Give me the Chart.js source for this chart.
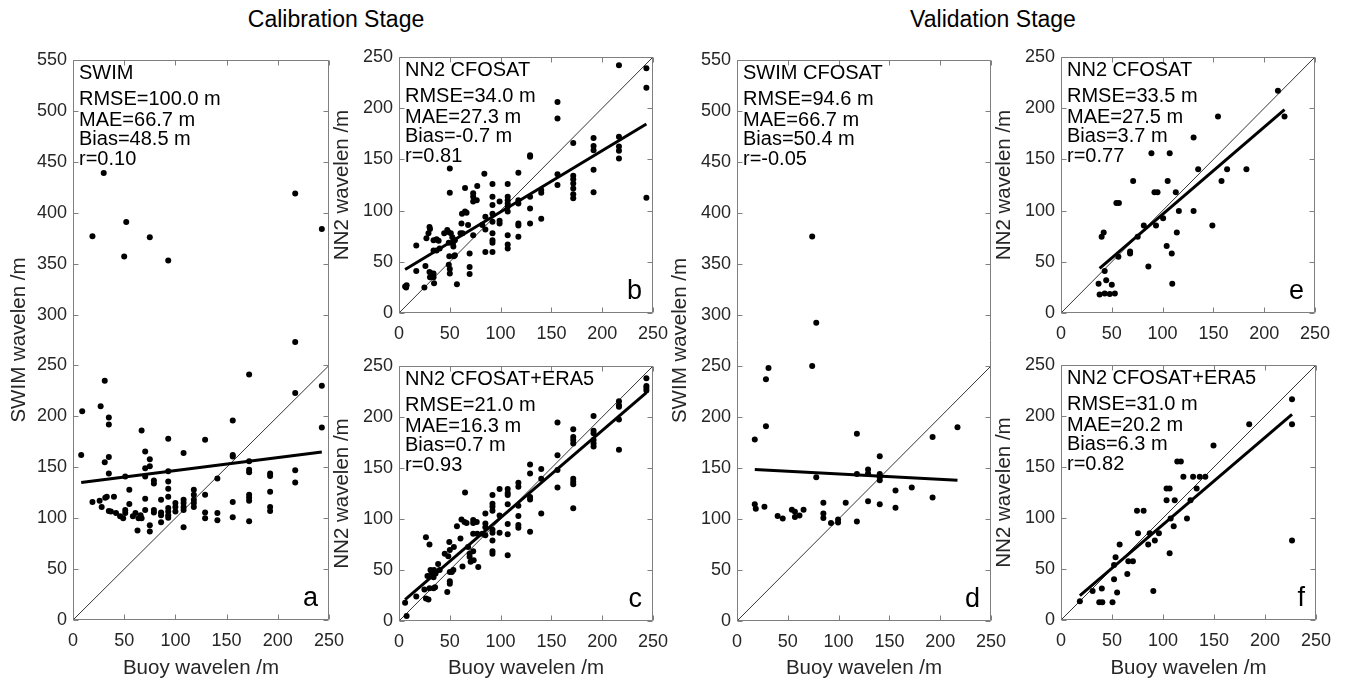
<!DOCTYPE html>
<html><head><meta charset="utf-8">
<script src="https://cdn.jsdelivr.net/npm/chart.js@4.4.0/dist/chart.umd.min.js"></script>
<style>
html,body{margin:0;padding:0;background:#fff;}
#wrap{position:relative;width:1346px;height:682px;overflow:hidden;font-family:"Liberation Sans",Arial,sans-serif;}
canvas{position:absolute;left:0;top:0;}
.stage{position:absolute;top:6px;font-size:23px;color:#000;transform:translateX(-50%);white-space:nowrap;}
</style></head><body>
<div id="wrap">
<div class="stage" style="left:336px">Calibration Stage</div>
<div class="stage" style="left:993px">Validation Stage</div>
<canvas id="pa" width="1346" height="682"></canvas>
<canvas id="pb" width="1346" height="682"></canvas>
<canvas id="pc" width="1346" height="682"></canvas>
<canvas id="pd" width="1346" height="682"></canvas>
<canvas id="pe" width="1346" height="682"></canvas>
<canvas id="pf" width="1346" height="682"></canvas>
</div>
<script>
// ---------- tick labels ----------
const xTicks = [0, 50, 100, 150, 200, 250];
const yTicks550 = [0, 50, 100, 150, 200, 250, 300, 350, 400, 450, 500, 550];
const yTicks250 = [0, 50, 100, 150, 200, 250];
const diagonal = [[0, 0], [250, 250]];

// ---------- panel a: Calibration, SWIM vs buoy ----------
const pointsA = [[30,439],[19,377],[52,391],[50,357],[75,376],[93,353],[217,419],[243,384],[217,273],
[9,205],[27,210],[31,235],[35,199],[35,192],[8,162],[31,155],[35,160],[35,144],
[19,116],[26,117],[28,111],[31.5,120],[33,121],[40,121],[35,107],[37,106.5],[42,105],[46,102],[49,100],[51,105],[51,108],[51,141],[55,128],[55,114],[58.5,102],[61,105],[63,88],[64,100],[66,103],[67,186],[67,100],[70.5,165.5],[70.5,149],[70.5,141],[70.5,119],[70.5,108],[75,158],[75,151],[75,93],[75,87],[79,137],[79,134],[79,108],[79,105.5],[86,118],[86,105.5],[86,103],[86,96],[93,178],[93,146],[93,136],[93,129],[93,121],[93,110],[93,106.5],[93,103],[93,100.5],[100,115],[100,111],[100,106.5],[108,164],[108,118],[108,115],[108,111],[108,108],[108,91],[118,128],[118,123],[118,118],[118,115],[118,111],[129,177],[129,123],[129,105.5],[129,100],[141,139],[141,105],[141,98],[156,196],[156,162],[156,160.5],[156,116],[156,101],[172,241],[172,156],[172,147.5],[172,145],[172,123],[172,120],[172,117],[172,97],[192.5,144],[192.5,141.5],[192.5,126],[192.5,111],[192.5,107],[217,223],[217,147],[217,135],[243,230],[243,189]];
const fitA = [[8,135],[243,165]];
const statsA = ['SWIM', 'RMSE=100.0 m', 'MAE=66.7 m', 'Bias=48.5 m', 'r=0.10'];

// ---------- panel b: Calibration, NN2 CFOSAT ----------
const pointsB = [[6,26],[7,25],[7.5,27],[17,66],[17,41],[25,25],[26,46],[27,73],[29,78],[30,84],[30.5,82],[30,40],[30.5,35],[32,38.5],[34,71],[34,61],[34,35],[34,38.5],[34.5,29],[37,72],[37,61],[39,70.5],[40,63],[44.5,78],[47.5,81],[48.5,79],[49,68.5],[49.5,55.5],[49,47],[50,43],[50,38.5],[50,141],[50,117.5],[51,78],[52.5,74],[53,68],[53.5,65],[54,55.5],[55,71],[55,56.5],[57,28],[60.5,78],[61.5,87.5],[62,97],[62.5,78],[65,122],[65,99],[66.5,98],[68,86],[69.5,58],[69.5,45],[69.5,38],[73,117],[73,113.5],[73,109],[73,76],[76.5,110],[77,124],[82,86],[84,136],[85,94],[85,81.5],[85,59.5],[92,126],[92,113.5],[92,105.5],[92,97],[92,89],[92,78],[92,71],[92,68.5],[92,59.5],[99,109],[99,90],[99,87.5],[107,126],[107,113.5],[107,110],[107,107],[107,104],[107,99],[107,76],[107,67],[107,63],[117.5,137],[117.5,110],[117.5,107],[117.5,87.5],[117.5,85.5],[117.5,74.5],[129,154],[129,152.5],[129,113.5],[129,102],[129,87.5],[140,120],[140,117.5],[140,92],[156,206],[156,190],[156,135.5],[156,125],[171.5,166],[171.5,134],[171.5,130.5],[171.5,126.5],[171.5,121.5],[171.5,116],[171.5,112],[191.5,171],[191.5,163],[191.5,159],[191.5,140],[191.5,118],[216.5,242],[216.5,172],[216.5,162.5],[216.5,158.5],[216.5,151],[243.5,239],[243.5,220],[243.5,112.5]];
const fitB = [[6,42.5],[243.5,184.5]];
const statsB = ['NN2 CFOSAT', 'RMSE=34.0 m', 'MAE=27.3 m', 'Bias=-0.7 m', 'r=0.81'];

// ---------- panel c: Calibration, NN2 CFOSAT+ERA5 ----------
const pointsC = [[6,18],[7.5,5],[17,24],[25,31],[26.5,82],[26.5,22],[28,44],[29,21],[30,75],[30,32],[31,50],[32,46.5],[34,32],[34,43],[34.5,50],[35.5,33],[36,46.5],[38.5,56],[40,50],[45,66],[47.5,28.5],[48.5,63.5],[49.5,77.5],[50,69.5],[50,48],[50,39],[50,36.5],[52,48],[53.5,50],[54,72.5],[57,93],[60.5,81],[61.5,99.5],[62.5,53.5],[64.5,97],[65,126],[66.5,96],[68,72.5],[69.5,66],[69.5,63],[70.5,58],[73,99],[73,96],[73,85.5],[73,68.5],[73.5,59.5],[76.5,97],[77,85.5],[78,53],[82,85.5],[85,105.5],[85,95.5],[85,92],[85,84],[92,123.5],[92,115],[92,112],[92,108],[92,89.5],[92,86.5],[92,79],[92,68.5],[92,66],[99,129.5],[99,103.5],[99,86.5],[107,129.5],[107,125.5],[107,123.5],[107,114.5],[107,95],[107,85],[107,64.5],[117.5,135.5],[117.5,131.5],[117.5,113],[117.5,103],[117.5,94],[117.5,91.5],[129,153.5],[129,144.5],[129,121.5],[129,119],[129,87.5],[140,149],[140,139.5],[140,105.5],[156,194.5],[156,162.5],[156,148],[156,131],[171.5,188],[171.5,180.5],[171.5,177.5],[171.5,174],[171.5,139.5],[171.5,136.5],[171.5,134],[171.5,110.5],[191.5,201],[191.5,186.5],[191.5,184],[191.5,177.5],[191.5,174],[191.5,171],[216.5,215.5],[216.5,211.5],[216.5,210],[216.5,197.5],[216.5,168],[243.5,238],[243.5,230.5],[243.5,228.5],[243.5,226]];
const fitC = [[6,21],[243.5,224]];
const statsC = ['NN2 CFOSAT+ERA5', 'RMSE=21.0 m', 'MAE=16.3 m', 'Bias=0.7 m', 'r=0.93'];

// ---------- panel d: Validation, SWIM CFOSAT ----------
const pointsD = [[74,377],[78,292.5],[74,250],[31,248],[28.5,237],[28.5,191],[17.5,178],[17.5,114.5],[18.5,110],[27,112],[40,103],[45,100.5],[54,109],[57,107],[57,102],[61.5,103.5],[65.5,109],[78,141],[85,116],[85,105.5],[85,101],[92.5,96],[99.5,99.5],[99.5,96.5],[107,116],[118,183.5],[118,144],[118,97.5],[129,148.5],[129,144.5],[129,117.5],[140.5,161.5],[140.5,144],[140.5,141],[140.5,138],[140.5,114.5],[156,128],[156,111],[172,131],[192.5,180.5],[192.5,121],[217,190]];
const fitD = [[17.5,148.5],[217,138]];
const statsD = ['SWIM CFOSAT', 'RMSE=94.6 m', 'MAE=66.7 m', 'Bias=50.4 m', 'r=-0.05'];

// ---------- panel e: Validation, NN2 CFOSAT ----------
const pointsE = [[37,28.5],[38,18],[40,74.5],[42,78.5],[43,41],[43,19],[44.5,32],[48,18.5],[50,27.5],[53,19],[54.5,107.5],[57,107.5],[56.5,55],[68,60],[68,58],[71,129],[75.5,74.5],[81.5,85.5],[86,45.5],[92,118],[95,118],[93.5,85.5],[89,156],[107,156],[100.5,92.5],[104,65.5],[105,129],[109,58],[109.5,28.5],[113,118],[114,78.5],[116,99.5],[130.5,99.5],[130.5,171.5],[135,140.5],[154.5,192],[149,85.5],[158,129],[163.5,140.5],[182.5,140.5],[213.5,217],[220,192]];
const fitE = [[38,43.5],[220,198.5]];
const statsE = ['NN2 CFOSAT', 'RMSE=33.5 m', 'MAE=27.5 m', 'Bias=3.7 m', 'r=0.77'];

// ---------- panel f: Validation, NN2 CFOSAT+ERA5 ----------
const pointsF = [[18.5,18.5],[31,28.5],[37.5,17.5],[40.5,17.5],[40,31],[50.5,17.5],[52,40],[52,54],[53.5,61.5],[55,27],[57.5,74],[65,45],[66,57.5],[70.5,57.5],[74.5,107],[75.5,85],[81,107],[85.5,74],[87,85],[90.5,28.5],[92,78],[96,85],[103.5,129],[103.5,117.5],[106.5,129],[106.5,65.5],[107.5,99.5],[110.5,92],[111.5,117.5],[114,155.5],[117.5,155.5],[120,140.5],[123.5,99.5],[127,117.5],[129.5,140.5],[133,129],[136,140.5],[141.5,140.5],[149.5,171],[184.5,192],[226.5,216.5],[226.5,192],[226.5,78]];
const fitF = [[18.5,24],[226.5,201.5]];
const statsF = ['NN2 CFOSAT+ERA5', 'RMSE=31.0 m', 'MAE=20.2 m', 'Bias=6.3 m', 'r=0.82'];

// ---------- drawing ----------
const FONT = '"Liberation Sans", Arial, sans-serif';
const W = 1346, H = 682;
const TITLE_SIZE = 20.5, TITLE_LH = TITLE_SIZE * 1.2;
const toXY = arr => arr.map(p => ({x: p[0], y: p[1]}));

const framePlugin = {
  id: 'frame',
  afterDraw(chart, args, opts) {
    const {ctx, chartArea: a, scales: {x, y}} = chart;
    ctx.save();
    ctx.strokeStyle = '#7f7f7f';
    ctx.lineWidth = 1;
    const L = Math.round(a.left) + 0.5, R = Math.round(a.right) - 0.5;
    const T = Math.round(a.top) + 0.5, B = Math.round(a.bottom) - 0.5;
    ctx.beginPath();
    ctx.rect(L, T, R - L, B - T);
    const tl = 5;
    x.ticks.forEach(t => {
      const px = Math.round(x.getPixelForValue(t.value)) + 0.5;
      ctx.moveTo(px, B); ctx.lineTo(px, B - tl);
      ctx.moveTo(px, T); ctx.lineTo(px, T + tl);
    });
    y.ticks.forEach(t => {
      const py = Math.round(y.getPixelForValue(t.value)) + 0.5;
      ctx.moveTo(L, py); ctx.lineTo(L + tl, py);
      ctx.moveTo(R, py); ctx.lineTo(R - tl, py);
    });
    ctx.stroke();
    // statistics text
    ctx.fillStyle = '#000';
    ctx.textAlign = 'left';
    ctx.textBaseline = 'middle';
    ctx.font = '20px ' + FONT;
    const offs = [13.5, 39.7, 60, 79.8, 99.7];
    opts.stats.forEach((s, i) => ctx.fillText(s, a.left + 6, a.top + offs[i]));
    // panel letter
    ctx.font = '27px ' + FONT;
    ctx.textAlign = 'right';
    ctx.textBaseline = 'alphabetic';
    ctx.fillText(opts.letter, a.right - 11, a.bottom - 14);
    ctx.restore();
  }
};

function makePanel(id, cfg) {
  const A = cfg.area;
  const padLeft = cfg.yTitleX - TITLE_LH / 2;
  const yW = A.l - padLeft;
  const xBottom = 668 + TITLE_LH / 2;
  const xH = xBottom - A.b;
  const tickFont = {family: FONT, size: 18};
  const titleFont = {family: FONT, size: TITLE_SIZE};
  new Chart(document.getElementById(id), {
    type: 'scatter',
    data: {datasets: [
      {data: toXY(diagonal), showLine: true, borderColor: '#000', borderWidth: 0.8, pointRadius: 0, order: 3},
      {data: toXY(cfg.fit), showLine: true, borderColor: '#000', borderWidth: 3, pointRadius: 0, order: 2},
      {data: toXY(cfg.points), backgroundColor: '#000', borderColor: '#000', borderWidth: 0, pointRadius: 3, order: 1}
    ]},
    options: {
      responsive: false, animation: false, devicePixelRatio: 1,
      events: [],
      layout: {padding: {left: padLeft, top: A.t, right: W - A.r, bottom: H - xBottom}},
      plugins: {legend: {display: false}, tooltip: {enabled: false}, frame: {stats: cfg.stats, letter: cfg.letter}},
      scales: {
        x: {
          type: 'linear', min: 0, max: 250,
          afterBuildTicks: s => { s.ticks = xTicks.map(v => ({value: v})); },
          grid: {display: false, drawTicks: false}, border: {display: false},
          ticks: {font: tickFont, color: '#262626', padding: 10, maxRotation: 0, autoSkip: false},
          title: {display: cfg.xTitle, text: 'Buoy wavelen /m', font: titleFont, color: '#262626', padding: 0},
          afterFit: s => { s.height = xH; s.paddingLeft = 0; s.paddingRight = 0; }
        },
        y: {
          type: 'linear', min: 0, max: cfg.yMax,
          afterBuildTicks: s => { s.ticks = cfg.yTicks.map(v => ({value: v})); },
          grid: {display: false, drawTicks: false}, border: {display: false},
          ticks: {font: tickFont, color: '#262626', padding: 6, autoSkip: false},
          title: {display: true, text: cfg.yTitle, font: titleFont, color: '#262626', padding: 0},
          afterFit: s => { s.width = yW; s.paddingTop = 0; s.paddingBottom = 0; }
        }
      }
    },
    plugins: [framePlugin]
  });
}

makePanel('pa', {area: {l: 73, t: 60, r: 329, b: 620}, yTitleX: 19, yMax: 550, yTicks: yTicks550,
  yTitle: 'SWIM wavelen /m', xTitle: true, points: pointsA, fit: fitA, stats: statsA, letter: 'a'});
makePanel('pb', {area: {l: 399, t: 57, r: 653, b: 313}, yTitleX: 342.5, yMax: 250, yTicks: yTicks250,
  yTitle: 'NN2 wavelen /m', xTitle: false, points: pointsB, fit: fitB, stats: statsB, letter: 'b'});
makePanel('pc', {area: {l: 399, t: 366, r: 653, b: 621}, yTitleX: 342.5, yMax: 250, yTicks: yTicks250,
  yTitle: 'NN2 wavelen /m', xTitle: true, points: pointsC, fit: fitC, stats: statsC, letter: 'c'});
makePanel('pd', {area: {l: 737, t: 60, r: 991, b: 621}, yTitleX: 680.5, yMax: 550, yTicks: yTicks550,
  yTitle: 'SWIM wavelen /m', xTitle: true, points: pointsD, fit: fitD, stats: statsD, letter: 'd'});
makePanel('pe', {area: {l: 1061, t: 57, r: 1315, b: 313}, yTitleX: 1004.5, yMax: 250, yTicks: yTicks250,
  yTitle: 'NN2 wavelen /m', xTitle: false, points: pointsE, fit: fitE, stats: statsE, letter: 'e'});
makePanel('pf', {area: {l: 1061, t: 365, r: 1316, b: 620}, yTitleX: 1004.5, yMax: 250, yTicks: yTicks250,
  yTitle: 'NN2 wavelen /m', xTitle: true, points: pointsF, fit: fitF, stats: statsF, letter: 'f'});
</script>
</body></html>
